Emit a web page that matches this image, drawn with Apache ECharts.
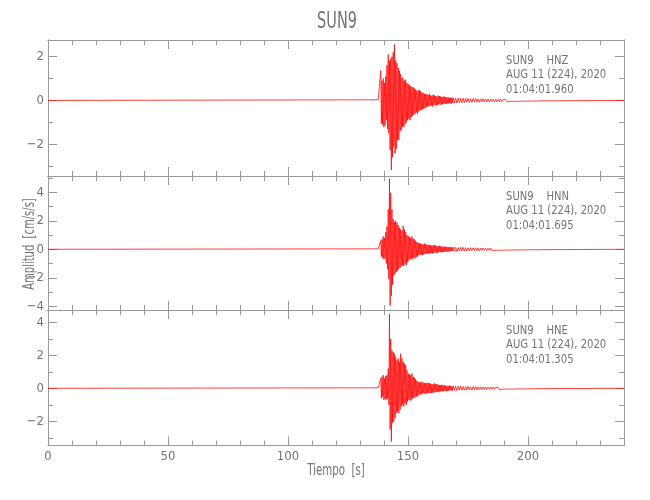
<!DOCTYPE html>
<html>
<head>
<meta charset="utf-8">
<script src="https://cdn.jsdelivr.net/npm/echarts@6/dist/echarts.min.js"></script>
<style>html,body{margin:0;padding:0;background:#fff}#c{width:650px;height:500px}</style>
</head>
<body>
<div id="c"></div>
<script>
// ---- data (amplitude in cm/s/s) ----
const stationName = 'SUN9';
const channels = ['HNZ', 'HNN', 'HNE'];
const dateLabel = 'AUG 11 (224), 2020';
const startTimes = ['01:04:01.960', '01:04:01.695', '01:04:01.305'];
const xTicksMajor = [0, 50, 100, 150, 200];
const xRange = [0, 240];
const yRanges = [[-3.45, 2.76], [-4.26, 5.14], [-3.47, 4.75]];

// strong-motion part: samples every 0.26 s starting at 137.6 s
const mainStart = 137.6, mainStep = 0.26;
// coda: samples every 0.52 s starting at 168.8 s
const codaStart = 168.8, codaStep = 0.52;

const hnzMain = [
  0.03,-0.02,0.04,-0.03,  1.36,-1.06,0.9,-1.1,  1.0,-1.21,0.8,-1.15,  1.1,-0.9,1.6,-1.3,
  2.1,-1.5,1.8,-2.27,  1.9,-3.18,2.0,-2.6,  2.2,-2.1,2.55,-2.42,  1.82,-2.2,1.7,-1.82,
  1.5,-1.8,1.36,-1.4,  1.2,-1.36,1.06,-1.2,  1.0,-1.21,0.9,-1.1,  0.95,-1.0,0.8,-0.9,
  0.76,-0.85,0.7,-0.9,  0.65,-0.76,0.61,-0.7,  0.6,-0.65,0.55,-0.61,  0.5,-0.55,0.45,-0.6,
  0.45,-0.5,0.48,-0.45,  0.42,-0.45,0.36,-0.4,  0.35,-0.38,0.3,-0.35,  0.3,-0.32,0.28,-0.25,
  0.25,-0.28,0.3,-0.23,  0.23,-0.25,0.22,-0.28,  0.26,-0.2,0.24,-0.22,  0.2,-0.23,0.18,-0.2,
  0.22,-0.18,0.2,-0.19,  0.18,-0.2,0.16,-0.17,  0.17,-0.15,0.18,-0.16,  0.14,-0.16,0.15,-0.13,
  0.15,-0.13,0.12,-0.14,  0.12,-0.14,0.13,-0.12
];
const hnzCoda = [
  0.12,-0.11,0.1,-0.12,0.11,-0.1,0.09,-0.11,0.1,-0.09,
  0.1,-0.08,0.09,-0.1,0.08,-0.09,0.08,-0.07,0.09,-0.08,
  0.07,-0.08,0.07,-0.06,0.08,-0.07,0.06,-0.07,0.06,-0.06,
  0.06,-0.05,0.06,-0.06,0.05,-0.06,0.05,-0.05,0.06,-0.05,
  0.05,-0.04,0.05,-0.05,0.04,-0.05,0.04,-0.04,0.05,-0.04,
  0.04,-0.04,0.03,-0.04,0.04,-0.03,0.03,-0.04,0.03,-0.03,
  0.03,-0.03,0.03,-0.02,0.03,-0.03,0.02,-0.03,0.02,-0.02
];

const hnnMain = [
  0.03,-0.03,0.02,-0.03,  0.6,-0.5,0.7,-0.6,  0.9,-0.7,0.8,-0.65,  1.2,-1.0,1.6,-1.4,
  2.8,-2.1,4.94,-3.96,  3.96,-3.26,2.8,-2.5,  2.1,-1.86,1.9,-1.7,  2.0,-1.6,1.86,-1.5,
  1.7,-1.4,1.5,-1.3,  1.4,-1.2,1.3,-1.1,  1.63,-1.17,1.4,-1.0,  1.2,-1.1,1.0,-0.9,
  0.93,-0.8,0.85,-0.7,  0.8,-0.7,0.9,-0.65,  0.75,-0.6,0.7,-0.65,  0.6,-0.55,0.5,-0.5,
  0.45,-0.4,0.42,-0.4,  0.4,-0.38,0.36,-0.4,  0.35,-0.36,0.4,-0.32,  0.33,-0.3,0.35,-0.3,
  0.3,-0.32,0.28,-0.3,  0.3,-0.28,0.26,-0.3,  0.28,-0.25,0.3,-0.24,  0.25,-0.24,0.22,-0.26,
  0.22,-0.2,0.24,-0.2,  0.2,-0.22,0.18,-0.2,  0.2,-0.18,0.17,-0.18,  0.16,-0.17,0.18,-0.15,
  0.15,-0.16,0.14,-0.15,  0.14,-0.13,0.15,-0.12
];
const hnnCoda = [
  0.15,-0.13,0.14,-0.15,0.12,-0.13,0.14,-0.12,0.13,-0.12,
  0.12,-0.11,0.1,-0.12,0.11,-0.1,0.1,-0.09,0.11,-0.1,
  0.09,-0.1,0.08,-0.09,0.09,-0.08,0.08,-0.09,0.07,-0.08,
  0.08,-0.07,0.07,-0.08,0.06,-0.07,0.07,-0.06,0.06,-0.07,
  0.06,-0.05,0.06,-0.06,0.05,-0.06,0.05,-0.05,0.06,-0.05,
  0.05,-0.04,0.05,-0.05,0.04,-0.04,0.04,-0.05,0.04,-0.04,
  0.04,-0.03,0.04,-0.04,0.03,-0.03,0.03,-0.04,0.03,-0.03
];

const hneMain = [
  0.03,-0.02,0.03,-0.03,  0.6,-0.6,0.7,-0.5,  0.8,-0.7,0.6,-0.65,  0.75,-0.7,0.8,-0.6,
  1.2,-1.0,4.5,-2.5,  3.0,-3.23,2.3,-2.1,  2.2,-2.0,2.1,-1.8,  1.9,-1.5,1.7,-1.4,
  1.8,-1.5,1.6,-1.3,  2.1,-1.1,1.8,-1.0,  1.6,-1.1,1.5,-0.9,  1.4,-1.0,1.1,-0.8,
  0.9,-0.7,0.85,-0.75,  0.8,-0.7,0.9,-0.6,  0.7,-0.6,0.65,-0.55,  0.55,-0.5,0.45,-0.5,
  0.4,-0.38,0.35,-0.4,  0.36,-0.35,0.4,-0.32,  0.35,-0.3,0.32,-0.35,  0.3,-0.32,0.34,-0.28,
  0.32,-0.28,0.3,-0.3,  0.28,-0.3,0.25,-0.27,  0.26,-0.24,0.3,-0.25,  0.24,-0.22,0.26,-0.2,
  0.22,-0.24,0.2,-0.2,  0.2,-0.18,0.22,-0.19,  0.18,-0.17,0.19,-0.16,  0.16,-0.18,0.15,-0.15,
  0.15,-0.14,0.16,-0.13,  0.14,-0.13,0.12,-0.14
];
const hneCoda = [
  0.14,-0.12,0.13,-0.14,0.12,-0.11,0.13,-0.12,0.11,-0.12,
  0.11,-0.1,0.12,-0.1,0.09,-0.11,0.1,-0.09,0.1,-0.09,
  0.09,-0.08,0.08,-0.09,0.08,-0.07,0.08,-0.08,0.07,-0.07,
  0.07,-0.06,0.07,-0.07,0.06,-0.06,0.06,-0.07,0.05,-0.06,
  0.05,-0.05,0.06,-0.05,0.05,-0.04,0.05,-0.05,0.04,-0.05,
  0.04,-0.04,0.04,-0.03,0.04,-0.04,0.03,-0.04,0.03,-0.03,
  0.03,-0.03,0.03,-0.03,0.02,-0.03,0.03,-0.02,0.02,-0.02
];

// ---- build ----
function trace(main, coda) {
  const d = [[xRange[0], 0]];
  main.forEach((v, i) => d.push([mainStart + i * mainStep, v]));
  coda.forEach((v, i) => d.push([codaStart + i * codaStep, v]));
  d.push([xRange[1], 0]);
  return d;
}
const traces = [trace(hnzMain, hnzCoda), trace(hnnMain, hnnCoda), trace(hneMain, hneCoda)];

const FONT = "'Liberation Sans Narrow','DejaVu Sans Condensed','Liberation Sans',sans-serif";
const AX = '#9a9a9a';
const TXT = '#747474';
const LEFT = 48, WIDTH = 576;
const panels = [{top: 40, height: 136}, {top: 176, height: 134}, {top: 310, height: 135.5}];

const grid = [], xAxis = [], yAxis = [], series = [], graphic = [];
const minus = v => (v < 0 ? '\u2212' + Math.abs(v) : String(v));

panels.forEach((p, i) => {
  grid.push({left: LEFT, width: WIDTH, top: p.top, height: p.height, containLabel: false});
  const base = {gridIndex: i, type: 'value', min: xRange[0], max: xRange[1],
    splitLine: {show: false}, axisLine: {show: true, onZero: false, lineStyle: {color: AX, width: 1}}};
  ['bottom', 'top'].forEach(pos => {
    xAxis.push(Object.assign({}, base, {position: pos, interval: 10,
      axisTick: {show: true, inside: true, length: 5, lineStyle: {color: AX}},
      axisLabel: {show: false}}));
    xAxis.push(Object.assign({}, base, {position: pos, interval: 50,
      axisTick: {show: true, inside: true, length: 9, lineStyle: {color: AX}},
      axisLabel: {show: pos === 'bottom' && i === 2, margin: 5, color: TXT, fontSize: 13, fontFamily: FONT,
        formatter: v => (xTicksMajor.indexOf(v) >= 0 ? String(v) : '')}}));
  });
  const yb = {gridIndex: i, type: 'value', min: yRanges[i][0], max: yRanges[i][1],
    splitLine: {show: false}, axisLine: {show: true, onZero: false, lineStyle: {color: AX, width: 1}}};
  ['left', 'right'].forEach(pos => {
    yAxis.push(Object.assign({}, yb, {position: pos, minInterval: 1, maxInterval: 1,
      axisTick: {show: true, inside: true, length: 5, lineStyle: {color: AX}},
      axisLabel: {show: false}}));
    yAxis.push(Object.assign({}, yb, {position: pos, minInterval: 2, maxInterval: 2,
      axisTick: {show: true, inside: true, length: 9, lineStyle: {color: AX}},
      axisLabel: {show: pos === 'left', margin: 4, color: TXT, fontSize: 13, fontFamily: FONT,
        formatter: v => (Number.isInteger(v) && v % 2 === 0 ? minus(v) : '')}}));
  });
  series.push({type: 'line', xAxisIndex: i * 4, yAxisIndex: i * 4, data: traces[i],
    showSymbol: false, symbol: 'none', sampling: null, animation: false, silent: true,
    lineStyle: {color: '#ff0000', width: 0.75}, z: 1});
  const lines = [stationName + '    ' + channels[i], dateLabel, startTimes[i]];
  const offs = [20.5, 35, 49.5];
  lines.forEach((t, k) => graphic.push({type: 'text', x: 506, y: p.top + offs[k], scaleX: 0.86,
    style: {text: t, fill: TXT, font: '13px ' + FONT, verticalAlign: 'middle'}}));
});

graphic.push({type: 'text', x: 337, y: 22, scaleX: 0.7, style: {text: stationName, fill: TXT, font: '23px ' + FONT, align: 'center', verticalAlign: 'middle'}});
graphic.push({type: 'text', x: 336, y: 471, scaleX: 0.76, style: {text: 'Tiempo  [s]', fill: TXT, font: '15px ' + FONT, align: 'center', verticalAlign: 'middle'}});
graphic.push({type: 'text', x: 30, y: 244, rotation: Math.PI / 2, scaleX: 0.74, style: {text: 'Amplitud  [cm/s/s]', fill: TXT, font: '15px ' + FONT, align: 'center', verticalAlign: 'middle'}});

const chart = echarts.init(document.getElementById('c'), null, {renderer: 'canvas'});
chart.setOption({animation: false, backgroundColor: '#fff', grid, xAxis, yAxis, series, graphic});
</script>
</body>
</html>
